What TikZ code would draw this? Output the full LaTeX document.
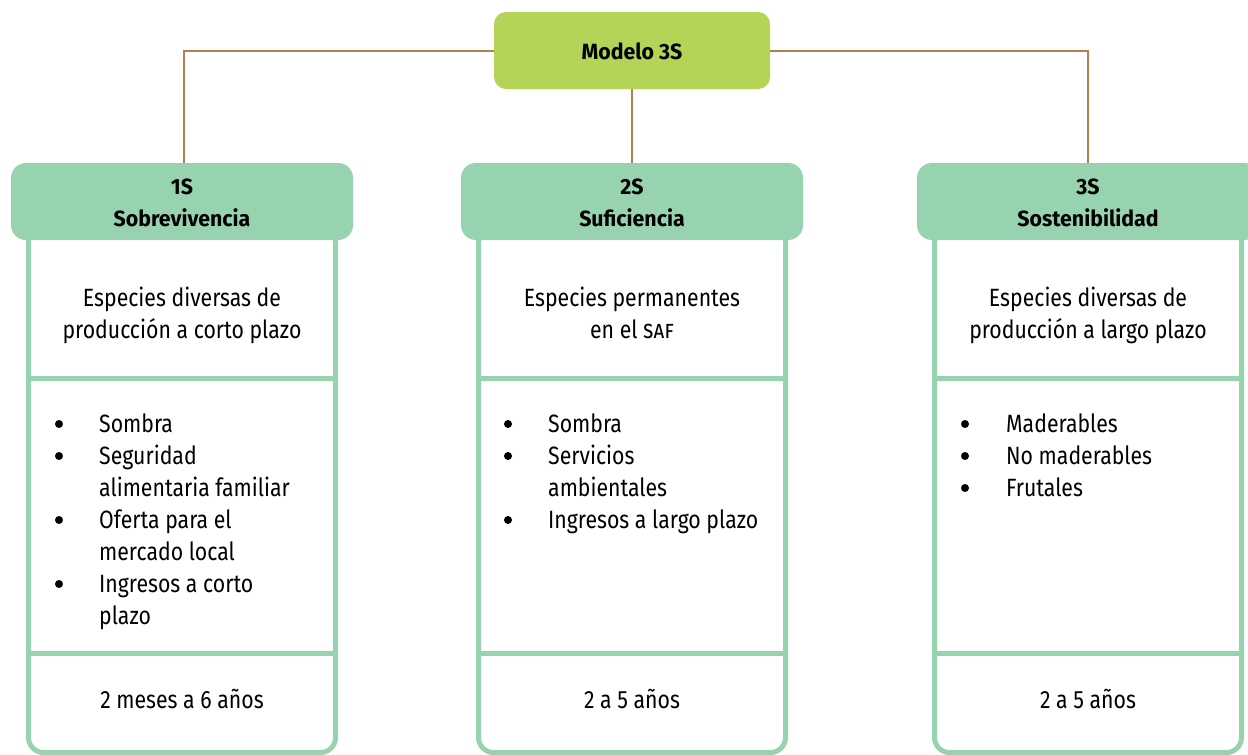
\documentclass[tikz,border=0pt]{standalone}
\usepackage{fontspec}
\setmainfont[FakeStretch=0.85, BoldFeatures={FakeStretch=0.97}]{Fira Sans}
\definecolor{topgreen}{HTML}{B3D456}
\definecolor{headgreen}{HTML}{98D3B0}
\definecolor{linebrown}{HTML}{B3814F}
\begin{document}
\begin{tikzpicture}[x=1pt,y=-1pt,
  conn/.style={draw=linebrown, line width=2pt},
  topbox/.style={fill=topgreen, rounded corners=12pt, minimum width=276pt, minimum height=77pt, inner sep=0pt},
  headbox/.style={fill=headgreen, rounded corners=15pt, minimum width=342pt, minimum height=77pt, inner sep=0pt},
  colbox/.style={draw=headgreen, line width=5pt},
  bold/.style={font=\bfseries\fontsize{22}{26}\selectfont, inner sep=0pt},
  txt/.style={font=\fontsize{25}{32}\selectfont, inner sep=0pt},
  ctr/.style={txt, anchor=base},
  lft/.style={txt, anchor=base west},
  dot/.style={circle, fill=black, minimum size=8pt, inner sep=0pt}
]
\useasboundingbox (0,0) rectangle (1248,755);
% columns
\foreach \c/\n in {182/a,632/b,1088/c}{
  \draw[colbox, rounded corners=15pt] (\c-153.5,230) -- (\c-153.5,752.5) -- (\c+153.5,752.5) -- (\c+153.5,230);
  \draw[colbox] (\c-153.5,378) -- (\c+153.5,378);
  \draw[colbox] (\c-153.5,653.5) -- (\c+153.5,653.5);
}
% top node and headers
\node[topbox] (m) at (632,50.5) {};
\node[headbox] (h1) at (182,201.5) {};
\node[headbox] (h2) at (632,201.5) {};
\node[headbox] (h3) at (1088,201.5) {};
\node[bold, anchor=base] (mt) at (632,59) {Modelo 3S};
\node[bold, anchor=base] (h1a) at (182,194) {1S};
\node[bold, anchor=base] (h1b) at (182,226) {Sobrevivencia};
\node[bold, anchor=base] (h2a) at (632,194) {2S};
\node[bold, anchor=base] (h2b) at (632,226) {Suficiencia};
\node[bold, anchor=base] (h3a) at (1088,194) {3S};
\node[bold, anchor=base] (h3b) at (1088,226) {Sostenibilidad};
% connectors
\draw[conn] (m.west) -| ([xshift=2pt]h1.north);
\draw[conn] (m.east) -| (h3.north);
\draw[conn] (m.south) -- (h2.north);
% descriptions
\node[ctr] (d1a) at (182,306) {Especies diversas de};
\node[ctr] (d1b) at (182,338) {producción a corto plazo};
\node[ctr] (d2a) at (632,306) {Especies permanentes};
\node[ctr] (d2b) at (632,338) {en el \textsc{saf}};
\node[ctr] (d3a) at (1088,306) {Especies diversas de};
\node[ctr] (d3b) at (1088,338) {producción a largo plazo};
% column 1 list
\node[dot] (b1a) at (59,424) {};
\node[dot] (b1b) at (59,456) {};
\node[dot] (b1c) at (59,520) {};
\node[dot] (b1d) at (59,584) {};
\node[lft] (l1a) at (99,432) {Sombra};
\node[lft] (l1b) at (99,464) {Seguridad};
\node[lft] (l1c) at (99,496) {alimentaria familiar};
\node[lft] (l1d) at (99,528) {Oferta para el};
\node[lft] (l1e) at (99,560) {mercado local};
\node[lft] (l1f) at (99,592) {Ingresos a corto};
\node[lft] (l1g) at (99,624) {plazo};
% column 2 list
\node[dot] (b2a) at (508,424) {};
\node[dot] (b2b) at (508,456) {};
\node[dot] (b2c) at (508,520) {};
\node[lft] (l2a) at (548,432) {Sombra};
\node[lft] (l2b) at (548,464) {Servicios};
\node[lft] (l2c) at (548,496) {ambientales};
\node[lft] (l2d) at (548,528) {Ingresos a largo plazo};
% column 3 list
\node[dot] (b3a) at (965,424) {};
\node[dot] (b3b) at (965,456) {};
\node[dot] (b3c) at (965,488) {};
\node[lft] (l3a) at (1006,432) {Maderables};
\node[lft] (l3b) at (1006,464) {No maderables};
\node[lft] (l3c) at (1006,496) {Frutales};
% footers
\node[ctr] (f1) at (182,708) {2 meses a 6 años};
\node[ctr] (f2) at (632,708) {2 a 5 años};
\node[ctr] (f3) at (1088,708) {2 a 5 años};
\end{tikzpicture}
\end{document}
